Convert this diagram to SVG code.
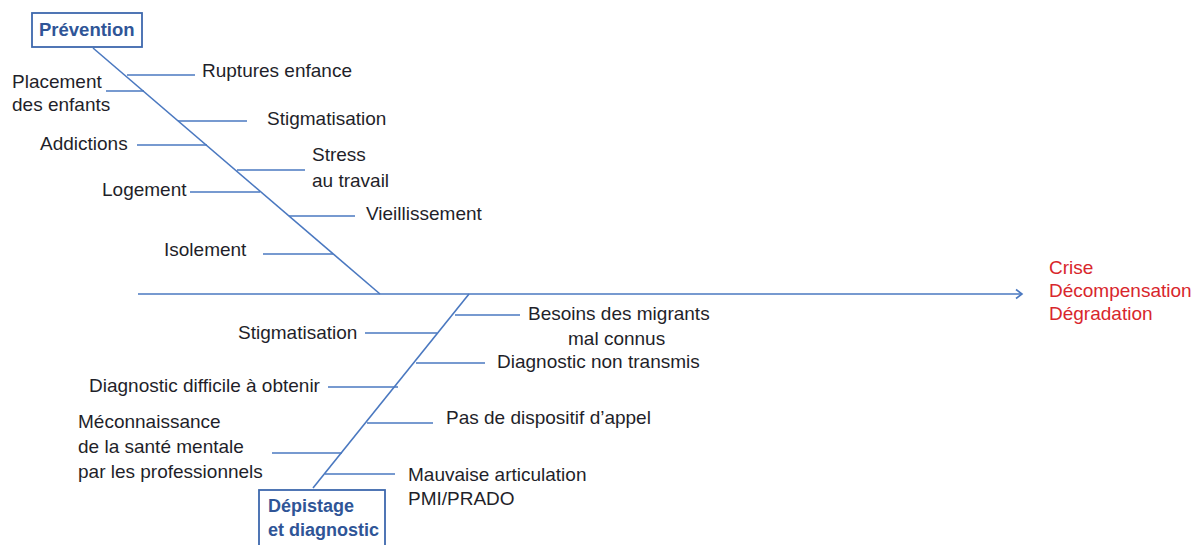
<svg xmlns="http://www.w3.org/2000/svg" width="1195" height="545" viewBox="0 0 1195 545">
<defs>
<style>
.t{font-family:"Liberation Sans",Arial,sans-serif;font-size:19px;fill:#1f1f2a}
.h{font-family:"Liberation Sans",Arial,sans-serif;font-size:18.5px;font-weight:bold;fill:#2f5597}
.h2{font-size:18px}
.r{font-family:"Liberation Sans",Arial,sans-serif;font-size:19px;fill:#d8262c}
.l{stroke:#4a78c0;stroke-width:1.6;fill:none}
.b{stroke:#3d68ad;stroke-width:1.8;fill:#fff}
</style>
<marker id="ah" markerWidth="12" markerHeight="12" refX="9" refY="6" orient="auto" markerUnits="userSpaceOnUse">
<polyline points="3,1.5 9,6 3,10.5" fill="none" stroke="#4a78c0" stroke-width="1.6"/>
</marker>
</defs>
<rect width="1195" height="545" fill="#fff"/>

<g id="connectors">
<line class="l" x1="138" y1="294" x2="1022" y2="294" marker-end="url(#ah)"/>
<line class="l" x1="93" y1="48" x2="380" y2="294"/>
<line class="l" x1="469" y1="294" x2="313" y2="488"/>
<line class="l" x1="127" y1="75" x2="195" y2="75"/>
<line class="l" x1="106" y1="91" x2="144" y2="91"/>
<line class="l" x1="178" y1="121" x2="247" y2="121"/>
<line class="l" x1="137" y1="145" x2="207" y2="145"/>
<line class="l" x1="237" y1="170" x2="305" y2="170"/>
<line class="l" x1="190" y1="192" x2="260" y2="192"/>
<line class="l" x1="289" y1="216" x2="355" y2="216"/>
<line class="l" x1="263" y1="254" x2="333" y2="254"/>
<line class="l" x1="455" y1="315" x2="520" y2="315"/>
<line class="l" x1="365" y1="333" x2="437" y2="333"/>
<line class="l" x1="416" y1="363" x2="485" y2="363"/>
<line class="l" x1="328" y1="387" x2="398" y2="387"/>
<line class="l" x1="367" y1="423" x2="433" y2="423"/>
<line class="l" x1="272" y1="453" x2="342" y2="453"/>
<line class="l" x1="325" y1="474" x2="395" y2="474"/>
</g>

<g id="prevention">
<rect class="b" x="32" y="13" width="110" height="34"/>
<text class="h" x="39" y="36">Prévention</text>
</g>
<g id="depistage">
<rect class="b" x="259" y="490" width="126" height="60"/>
<text class="h h2" x="268" y="512">Dépistage</text>
<text class="h h2" x="268" y="536">et diagnostic</text>
</g>
<g id="effet">
<text class="r" x="1049" y="274">Crise</text>
<text class="r" x="1049" y="297">Décompensation</text>
<text class="r" x="1049" y="320">Dégradation</text>
</g>

<g id="ruptures"><text class="t" x="202" y="77">Ruptures enfance</text></g>
<g id="placement"><text class="t" x="12" y="88">Placement</text><text class="t" x="12" y="111">des enfants</text></g>
<g id="stigmatisation1"><text class="t" x="267" y="125">Stigmatisation</text></g>
<g id="addictions"><text class="t" x="40" y="150">Addictions</text></g>
<g id="stress"><text class="t" x="312" y="161">Stress</text><text class="t" x="312" y="187">au travail</text></g>
<g id="logement"><text class="t" x="102" y="196">Logement</text></g>
<g id="vieillissement"><text class="t" x="366" y="220">Vieillissement</text></g>
<g id="isolement"><text class="t" x="164" y="256">Isolement</text></g>

<g id="besoins"><text class="t" x="528" y="320">Besoins des migrants</text><text class="t" x="568" y="345">mal connus</text></g>
<g id="stigmatisation2"><text class="t" x="238" y="339">Stigmatisation</text></g>
<g id="diag-non"><text class="t" x="497" y="368">Diagnostic non transmis</text></g>
<g id="diag-diff"><text class="t" x="89" y="392">Diagnostic difficile à obtenir</text></g>
<g id="appel"><text class="t" x="446" y="424">Pas de dispositif d’appel</text></g>
<g id="meconnaissance"><text class="t" x="78" y="428">Méconnaissance</text><text class="t" x="78" y="453">de la santé mentale</text><text class="t" x="78" y="478">par les professionnels</text></g>
<g id="articulation"><text class="t" x="408" y="481">Mauvaise articulation</text><text class="t" x="408" y="505">PMI/PRADO</text></g>
</svg>
